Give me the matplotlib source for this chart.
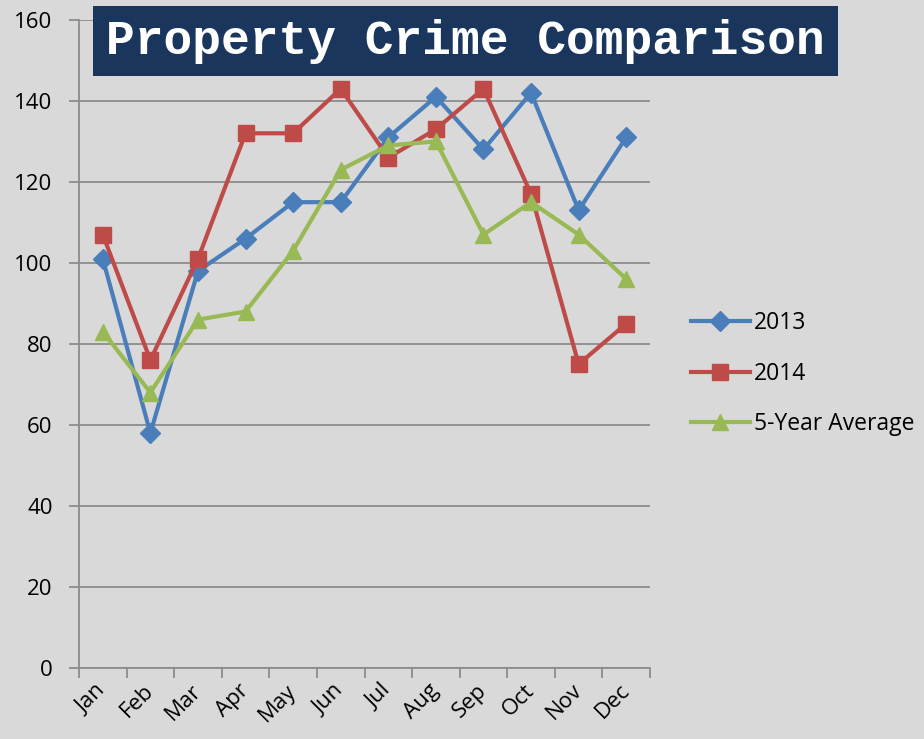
import matplotlib.pyplot as plt
import numpy as np

months = ['Jan', 'Feb', 'Mar', 'Apr', 'May', 'Jun', 'Jul', 'Aug', 'Sep', 'Oct', 'Nov', 'Dec']
crime_2013 = [101, 58, 98, 106, 115, 115, 131, 141, 128, 142, 113, 131]
crime_2014 = [107, 76, 101, 132, 132, 143, 126, 133, 143, 117, 75, 85]
avg_5yr = [83, 68, 86, 88, 103, 123, 129, 130, 107, 115, 107, 96]

bg = '#d9d9d9'
plt.rcParams['font.family'] = ['Open Sans', 'DejaVu Sans']

fig = plt.figure(figsize=(9.24, 7.39), dpi=100, facecolor=bg)
ax = fig.add_axes([0.0855, 0.0961, 0.618, 0.877], facecolor=bg)

x = np.arange(len(months))
ax.plot(x, crime_2013, color='#4a7ebb', lw=3, marker='D', ms=10, label='2013', zorder=3)
ax.plot(x, crime_2014, color='#be4b48', lw=3, marker='s', ms=11, label='2014', zorder=3)
ax.plot(x, avg_5yr, color='#98b954', lw=3, marker='^', ms=12, label='5-Year Average', zorder=3)

ax.set_xlim(-0.5, 11.5)
ax.set_ylim(0, 160)
ax.set_yticks(range(0, 161, 20))
ax.yaxis.grid(True, color='#8c8c8c', lw=1.3)
ax.set_axisbelow(True)

ax.set_xticks(x)
ax.set_xticklabels(months, rotation=45, fontsize=16, ha='right', va='center',
                   rotation_mode='anchor')
ax.tick_params(axis='x', length=0, pad=14)
ax.set_xticks(np.arange(-0.5, 12, 1), minor=True)
ax.tick_params(axis='x', which='minor', length=7, color='#8c8c8c', width=1.3)
ax.tick_params(axis='y', length=7, color='#8c8c8c', width=1.3, labelsize=16, pad=12)

for s in ['top', 'right']:
    ax.spines[s].set_visible(False)
for s in ['left', 'bottom']:
    ax.spines[s].set_color('#8c8c8c')
    ax.spines[s].set_linewidth(1.3)

ax.legend(loc='center left', bbox_to_anchor=(1.035, 0.454), frameon=False, fontsize=16.5,
          handlelength=2.6, handletextpad=0.15, labelspacing=1.15)

fig.text(0.504, 0.9445, 'Property Crime Comparison', ha='center', va='center',
         fontsize=34.5, fontweight='bold', family='Liberation Mono', color='white',
         bbox=dict(boxstyle='square,pad=0.27', fc='#1a365d', ec='none'))

fig.savefig('out.png', dpi=100, facecolor=bg)
